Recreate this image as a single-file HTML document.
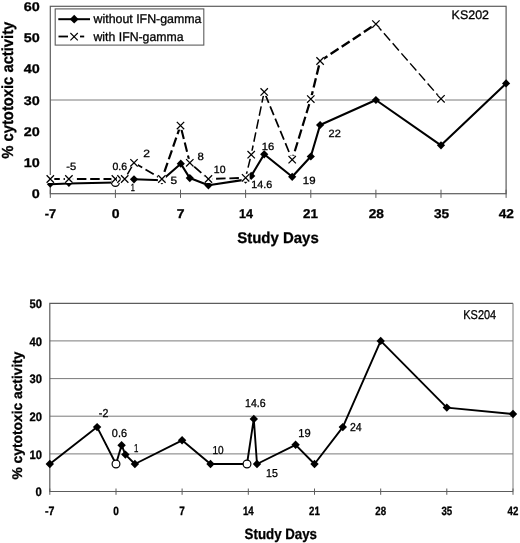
<!DOCTYPE html>
<html lang="en">
<head>
<meta charset="utf-8">
<title>Cytotoxic activity by study day: KS202 and KS204</title>
<style>
html,body{margin:0;padding:0;background:#fff;}
text{stroke:#000;stroke-width:0.3px;paint-order:stroke;}
svg{display:block;font-family:"Liberation Sans", Arial, Helvetica, sans-serif;fill:#000;text-rendering:geometricPrecision;will-change:transform;}
</style>
</head>
<body>
<svg width="520" height="543" viewBox="0 0 520 543">
<rect width="520" height="543" fill="#fff"/>
<line x1="50.3" x2="506.1" y1="100.0" y2="100.0" stroke="#7a7a7a" stroke-width="1"/>
<rect x="50.3" y="6.3" width="455.8" height="187.4" fill="none" stroke="#5c5c5c" stroke-width="1.2"/>
<line x1="50.3" x2="50.3" y1="189.7" y2="197.9" stroke="#5c5c5c" stroke-width="1"/>
<text x="50.4" y="218.2" font-size="12.8" font-weight="bold" text-anchor="middle" textLength="11.4" lengthAdjust="spacingAndGlyphs">-7</text>
<line x1="115.4" x2="115.4" y1="189.7" y2="197.9" stroke="#5c5c5c" stroke-width="1"/>
<text x="115.6" y="218.2" font-size="12.8" font-weight="bold" text-anchor="middle" textLength="7.8" lengthAdjust="spacingAndGlyphs">0</text>
<line x1="180.5" x2="180.5" y1="189.7" y2="197.9" stroke="#5c5c5c" stroke-width="1"/>
<text x="180.7" y="218.2" font-size="12.8" font-weight="bold" text-anchor="middle" textLength="7.8" lengthAdjust="spacingAndGlyphs">7</text>
<line x1="245.6" x2="245.6" y1="189.7" y2="197.9" stroke="#5c5c5c" stroke-width="1"/>
<text x="246.0" y="218.2" font-size="12.8" font-weight="bold" text-anchor="middle" textLength="14.0" lengthAdjust="spacingAndGlyphs">14</text>
<line x1="310.8" x2="310.8" y1="189.7" y2="197.9" stroke="#5c5c5c" stroke-width="1"/>
<text x="310.4" y="218.2" font-size="12.8" font-weight="bold" text-anchor="middle" textLength="14.9" lengthAdjust="spacingAndGlyphs">21</text>
<line x1="375.9" x2="375.9" y1="189.7" y2="197.9" stroke="#5c5c5c" stroke-width="1"/>
<text x="376.3" y="218.2" font-size="12.8" font-weight="bold" text-anchor="middle" textLength="15.2" lengthAdjust="spacingAndGlyphs">28</text>
<line x1="441.0" x2="441.0" y1="189.7" y2="197.9" stroke="#5c5c5c" stroke-width="1"/>
<text x="441.6" y="218.2" font-size="12.8" font-weight="bold" text-anchor="middle" textLength="15.2" lengthAdjust="spacingAndGlyphs">35</text>
<line x1="506.1" x2="506.1" y1="189.7" y2="197.9" stroke="#5c5c5c" stroke-width="1"/>
<text x="506.3" y="218.2" font-size="12.8" font-weight="bold" text-anchor="middle" textLength="15.2" lengthAdjust="spacingAndGlyphs">42</text>
<text x="39.8" y="198.2" font-size="12.6" font-weight="bold" text-anchor="end" textLength="8.0" lengthAdjust="spacingAndGlyphs">0</text>
<text x="39.8" y="167.0" font-size="12.6" font-weight="bold" text-anchor="end" textLength="16.0" lengthAdjust="spacingAndGlyphs">10</text>
<text x="39.8" y="135.7" font-size="12.6" font-weight="bold" text-anchor="end" textLength="16.0" lengthAdjust="spacingAndGlyphs">20</text>
<text x="39.8" y="104.5" font-size="12.6" font-weight="bold" text-anchor="end" textLength="16.0" lengthAdjust="spacingAndGlyphs">30</text>
<text x="39.8" y="73.3" font-size="12.6" font-weight="bold" text-anchor="end" textLength="16.0" lengthAdjust="spacingAndGlyphs">40</text>
<text x="39.8" y="42.0" font-size="12.6" font-weight="bold" text-anchor="end" textLength="16.0" lengthAdjust="spacingAndGlyphs">50</text>
<text x="39.8" y="10.8" font-size="12.6" font-weight="bold" text-anchor="end" textLength="16.0" lengthAdjust="spacingAndGlyphs">60</text>
<text x="278.0" y="243.2" font-size="15.5" font-weight="bold" text-anchor="middle" textLength="81.5" lengthAdjust="spacingAndGlyphs">Study Days</text>
<text transform="translate(13.4 90.2) rotate(-90)" font-size="16" font-weight="bold" text-anchor="middle" textLength="137" lengthAdjust="spacingAndGlyphs">% cytotoxic activity</text>
<text x="451.6" y="19.3" font-size="12.4" textLength="37.4" lengthAdjust="spacingAndGlyphs">KS202</text>
<path d="M50.3 184.3L68.9 183.5L115.4 182.5" fill="none" stroke="#000" stroke-width="2.1" stroke-linejoin="round"/>
<path d="M134.0 179.3L161.9 180.3L180.8 163.7L189.8 178.1L208.4 185.3L245.6 179.6L251.2 175.9L264.2 154.3L292.2 176.8L310.8 156.5L320.1 125.0L375.9 100.0L441.0 145.3L506.1 83.4" fill="none" stroke="#000" stroke-width="2.1" stroke-linejoin="round"/>
<path d="M50.3 180.9L53.7 184.3L50.3 187.7L46.9 184.3Z" fill="#000"/>
<path d="M68.9 180.1L72.3 183.5L68.9 186.9L65.5 183.5Z" fill="#000"/>
<circle cx="115.4" cy="182.5" r="3.9" fill="#fff" stroke="#000" stroke-width="1.2"/>
<path d="M134.0 175.2L138.1 179.3L134.0 183.4L129.9 179.3Z" fill="#000"/>
<path d="M161.9 176.2L166.0 180.3L161.9 184.4L157.8 180.3Z" fill="#000"/>
<path d="M180.8 159.6L184.9 163.7L180.8 167.8L176.7 163.7Z" fill="#000"/>
<path d="M189.8 174.0L193.9 178.1L189.8 182.2L185.7 178.1Z" fill="#000"/>
<path d="M208.4 181.2L212.5 185.3L208.4 189.4L204.3 185.3Z" fill="#000"/>
<path d="M245.6 175.5L249.7 179.6L245.6 183.7L241.5 179.6Z" fill="#000"/>
<path d="M251.2 171.8L255.3 175.9L251.2 180.0L247.1 175.9Z" fill="#000"/>
<path d="M264.2 150.2L268.3 154.3L264.2 158.4L260.1 154.3Z" fill="#000"/>
<path d="M292.2 172.7L296.3 176.8L292.2 180.9L288.1 176.8Z" fill="#000"/>
<path d="M310.8 152.4L314.9 156.5L310.8 160.6L306.7 156.5Z" fill="#000"/>
<path d="M320.1 120.9L324.2 125.0L320.1 129.1L316.0 125.0Z" fill="#000"/>
<path d="M375.9 95.9L380.0 100.0L375.9 104.1L371.8 100.0Z" fill="#000"/>
<path d="M441.0 141.2L445.1 145.3L441.0 149.4L436.9 145.3Z" fill="#000"/>
<path d="M506.1 79.3L510.2 83.4L506.1 87.5L502.0 83.4Z" fill="#000"/>
<line x1="50.3" y1="179.0" x2="68.9" y2="179.0" stroke="#000" stroke-width="1.8" stroke-dasharray="9.5 3.8" stroke-dashoffset="0.0"/>
<line x1="68.9" y1="179.0" x2="115.4" y2="179.0" stroke="#000" stroke-width="1.8" stroke-dasharray="9.5 3.8" stroke-dashoffset="5.3"/>
<line x1="115.4" y1="179.0" x2="121.0" y2="179.0" stroke="#000" stroke-width="1.8" stroke-dasharray="9.5 3.8" stroke-dashoffset="11.9"/>
<line x1="121.0" y1="179.0" x2="124.7" y2="179.0" stroke="#000" stroke-width="1.8" stroke-dasharray="9.5 3.8" stroke-dashoffset="4.2"/>
<line x1="124.7" y1="179.0" x2="134.0" y2="162.8" stroke="#000" stroke-width="1.5" stroke-dasharray="9.5 3.8" stroke-dashoffset="7.9"/>
<line x1="134.0" y1="162.8" x2="161.9" y2="179.0" stroke="#000" stroke-width="1.8" stroke-dasharray="9.5 3.8" stroke-dashoffset="0.0"/>
<line x1="161.9" y1="179.0" x2="180.5" y2="125.6" stroke="#000" stroke-width="2.2" stroke-dasharray="9.5 3.8" stroke-dashoffset="5.7"/>
<line x1="180.5" y1="125.6" x2="189.8" y2="162.8" stroke="#000" stroke-width="2.1" stroke-dasharray="9.5 3.8" stroke-dashoffset="9.1"/>
<line x1="189.8" y1="162.8" x2="208.4" y2="179.0" stroke="#000" stroke-width="1.8" stroke-dasharray="9.5 3.8" stroke-dashoffset="7.5"/>
<line x1="208.4" y1="179.0" x2="245.6" y2="177.8" stroke="#000" stroke-width="1.8" stroke-dasharray="9.5 3.8" stroke-dashoffset="5.6"/>
<line x1="245.6" y1="177.8" x2="251.2" y2="154.7" stroke="#000" stroke-width="1.5" stroke-dasharray="9.5 3.8" stroke-dashoffset="2.9"/>
<line x1="251.2" y1="154.7" x2="264.2" y2="91.9" stroke="#000" stroke-width="1.5" stroke-dasharray="9.5 3.8" stroke-dashoffset="0.1"/>
<line x1="264.2" y1="91.9" x2="292.2" y2="159.7" stroke="#000" stroke-width="1.7" stroke-dasharray="9.5 3.8" stroke-dashoffset="11.0"/>
<line x1="292.2" y1="159.7" x2="310.8" y2="99.1" stroke="#000" stroke-width="2.2" stroke-dasharray="9.5 3.8" stroke-dashoffset="4.5"/>
<line x1="310.8" y1="99.1" x2="320.1" y2="61.0" stroke="#000" stroke-width="2.3" stroke-dasharray="9.5 3.8" stroke-dashoffset="1.4"/>
<line x1="320.1" y1="61.0" x2="375.9" y2="24.1" stroke="#000" stroke-width="2.4" stroke-dasharray="9.5 3.8" stroke-dashoffset="0.7"/>
<line x1="375.9" y1="24.1" x2="441.0" y2="98.8" stroke="#000" stroke-width="1.4" stroke-dasharray="9.5 3.8" stroke-dashoffset="1.1"/>
<rect x="46.3" y="175.0" width="8.0" height="8.0" fill="#fff"/>
<path d="M46.6 175.3L54.0 182.7M46.6 182.7L54.0 175.3" stroke="#000" stroke-width="1.25" fill="none"/>
<rect x="64.9" y="175.0" width="8.0" height="8.0" fill="#fff"/>
<path d="M65.2 175.3L72.6 182.7M65.2 182.7L72.6 175.3" stroke="#000" stroke-width="1.25" fill="none"/>
<rect x="111.4" y="175.0" width="8.0" height="8.0" fill="#fff"/>
<path d="M111.7 175.3L119.1 182.7M111.7 182.7L119.1 175.3" stroke="#000" stroke-width="1.25" fill="none"/>
<rect x="117.0" y="175.0" width="8.0" height="8.0" fill="#fff"/>
<path d="M117.3 175.3L124.7 182.7M117.3 182.7L124.7 175.3" stroke="#000" stroke-width="1.25" fill="none"/>
<rect x="120.7" y="175.0" width="8.0" height="8.0" fill="#fff"/>
<path d="M121.0 175.3L128.4 182.7M121.0 182.7L128.4 175.3" stroke="#000" stroke-width="1.25" fill="none"/>
<rect x="130.0" y="158.8" width="8.0" height="8.0" fill="#fff"/>
<path d="M130.3 159.1L137.7 166.5M130.3 166.5L137.7 159.1" stroke="#000" stroke-width="1.25" fill="none"/>
<rect x="157.9" y="175.0" width="8.0" height="8.0" fill="#fff"/>
<path d="M158.2 175.3L165.6 182.7M158.2 182.7L165.6 175.3" stroke="#000" stroke-width="1.25" fill="none"/>
<rect x="176.5" y="121.6" width="8.0" height="8.0" fill="#fff"/>
<path d="M176.8 121.9L184.2 129.3M176.8 129.3L184.2 121.9" stroke="#000" stroke-width="1.25" fill="none"/>
<rect x="185.8" y="158.8" width="8.0" height="8.0" fill="#fff"/>
<path d="M186.1 159.1L193.5 166.5M186.1 166.5L193.5 159.1" stroke="#000" stroke-width="1.25" fill="none"/>
<rect x="204.4" y="175.0" width="8.0" height="8.0" fill="#fff"/>
<path d="M204.7 175.3L212.1 182.7M204.7 182.7L212.1 175.3" stroke="#000" stroke-width="1.25" fill="none"/>
<rect x="241.6" y="173.8" width="8.0" height="8.0" fill="#fff"/>
<path d="M241.9 174.1L249.3 181.5M241.9 181.5L249.3 174.1" stroke="#000" stroke-width="1.25" fill="none"/>
<rect x="247.2" y="150.7" width="8.0" height="8.0" fill="#fff"/>
<path d="M247.5 151.0L254.9 158.4M247.5 158.4L254.9 151.0" stroke="#000" stroke-width="1.25" fill="none"/>
<rect x="260.2" y="87.9" width="8.0" height="8.0" fill="#fff"/>
<path d="M260.5 88.2L267.9 95.6M260.5 95.6L267.9 88.2" stroke="#000" stroke-width="1.25" fill="none"/>
<rect x="288.2" y="155.7" width="8.0" height="8.0" fill="#fff"/>
<path d="M288.5 156.0L295.9 163.4M288.5 163.4L295.9 156.0" stroke="#000" stroke-width="1.25" fill="none"/>
<rect x="306.8" y="95.1" width="8.0" height="8.0" fill="#fff"/>
<path d="M307.1 95.4L314.5 102.8M307.1 102.8L314.5 95.4" stroke="#000" stroke-width="1.25" fill="none"/>
<rect x="316.1" y="57.0" width="8.0" height="8.0" fill="#fff"/>
<path d="M316.4 57.3L323.8 64.7M316.4 64.7L323.8 57.3" stroke="#000" stroke-width="1.25" fill="none"/>
<rect x="371.9" y="20.1" width="8.0" height="8.0" fill="#fff"/>
<path d="M372.2 20.4L379.6 27.8M372.2 27.8L379.6 20.4" stroke="#000" stroke-width="1.25" fill="none"/>
<rect x="437.0" y="94.8" width="8.0" height="8.0" fill="#fff"/>
<path d="M437.3 95.1L444.7 102.5M437.3 102.5L444.7 95.1" stroke="#000" stroke-width="1.25" fill="none"/>
<text x="71.2" y="170.4" font-size="10.5" text-anchor="middle" textLength="9.9" lengthAdjust="spacingAndGlyphs">-5</text>
<text x="119.7" y="170.0" font-size="10.5" text-anchor="middle" textLength="14.6" lengthAdjust="spacingAndGlyphs">0.6</text>
<text x="146.6" y="156.9" font-size="10.5" text-anchor="middle" textLength="6.7" lengthAdjust="spacingAndGlyphs">2</text>
<text x="132.9" y="191.3" font-size="10.5" text-anchor="middle" textLength="4.1" lengthAdjust="spacingAndGlyphs">1</text>
<text x="173.8" y="183.6" font-size="10.5" text-anchor="middle" textLength="6.6" lengthAdjust="spacingAndGlyphs">5</text>
<text x="200.6" y="160.0" font-size="10.5" text-anchor="middle" textLength="6.3" lengthAdjust="spacingAndGlyphs">8</text>
<text x="219.7" y="172.5" font-size="10.5" text-anchor="middle" textLength="11.7" lengthAdjust="spacingAndGlyphs">10</text>
<text x="267.9" y="149.6" font-size="10.5" text-anchor="middle" textLength="12.5" lengthAdjust="spacingAndGlyphs">16</text>
<text x="261.7" y="187.9" font-size="10.5" text-anchor="middle" textLength="20.9" lengthAdjust="spacingAndGlyphs">14.6</text>
<text x="309.2" y="183.6" font-size="10.5" text-anchor="middle" textLength="12.7" lengthAdjust="spacingAndGlyphs">19</text>
<text x="334.7" y="137.3" font-size="10.5" text-anchor="middle" textLength="12.2" lengthAdjust="spacingAndGlyphs">22</text>
<rect x="55.2" y="8.9" width="148.6" height="36.2" fill="#fff" stroke="#5c5c5c" stroke-width="1.1"/>
<line x1="58.3" x2="90" y1="19.2" y2="19.2" stroke="#000" stroke-width="2"/>
<path d="M74.2 14.8L78.6 19.2L74.2 23.6L69.8 19.2Z" fill="#000"/>
<line x1="58.5" x2="68.0" y1="36.5" y2="36.5" stroke="#000" stroke-width="1.8"/>
<line x1="80.0" x2="84.2" y1="36.5" y2="36.5" stroke="#000" stroke-width="1.8"/>
<path d="M70.4 33.0L77.8 40.4M70.4 40.4L77.8 33.0" stroke="#000" stroke-width="1.1" fill="none"/>
<text x="93.5" y="22.7" font-size="12.6" textLength="108" lengthAdjust="spacingAndGlyphs">without IFN-gamma</text>
<text x="93.5" y="41.0" font-size="12.6" textLength="90" lengthAdjust="spacingAndGlyphs">with IFN-gamma</text>
<line x1="49.8" x2="513.0" y1="453.9" y2="453.9" stroke="#7a7a7a" stroke-width="1"/>
<line x1="49.8" x2="513.0" y1="416.2" y2="416.2" stroke="#7a7a7a" stroke-width="1"/>
<line x1="49.8" x2="513.0" y1="378.6" y2="378.6" stroke="#7a7a7a" stroke-width="1"/>
<line x1="49.8" x2="513.0" y1="340.9" y2="340.9" stroke="#7a7a7a" stroke-width="1"/>
<path d="M513.0 303.3L49.8 303.3L49.8 491.5L513.0 491.5" fill="none" stroke="#5c5c5c" stroke-width="1.2"/>
<line x1="513.0" x2="513.0" y1="303.3" y2="491.5" stroke="#7a7a7a" stroke-width="1"/>
<line x1="49.8" x2="49.8" y1="488.5" y2="494.8" stroke="#5c5c5c" stroke-width="1"/>
<text x="49.8" y="515.4" font-size="12" font-weight="bold" text-anchor="middle" textLength="9.5" lengthAdjust="spacingAndGlyphs">-7</text>
<line x1="116.0" x2="116.0" y1="488.5" y2="494.8" stroke="#5c5c5c" stroke-width="1"/>
<text x="116.0" y="515.4" font-size="12" font-weight="bold" text-anchor="middle" textLength="5.6" lengthAdjust="spacingAndGlyphs">0</text>
<line x1="182.1" x2="182.1" y1="488.5" y2="494.8" stroke="#5c5c5c" stroke-width="1"/>
<text x="182.1" y="515.4" font-size="12" font-weight="bold" text-anchor="middle" textLength="5.6" lengthAdjust="spacingAndGlyphs">7</text>
<line x1="248.3" x2="248.3" y1="488.5" y2="494.8" stroke="#5c5c5c" stroke-width="1"/>
<text x="248.3" y="515.4" font-size="12" font-weight="bold" text-anchor="middle" textLength="10.8" lengthAdjust="spacingAndGlyphs">14</text>
<line x1="314.5" x2="314.5" y1="488.5" y2="494.8" stroke="#5c5c5c" stroke-width="1"/>
<text x="314.5" y="515.4" font-size="12" font-weight="bold" text-anchor="middle" textLength="10.8" lengthAdjust="spacingAndGlyphs">21</text>
<line x1="380.7" x2="380.7" y1="488.5" y2="494.8" stroke="#5c5c5c" stroke-width="1"/>
<text x="380.7" y="515.4" font-size="12" font-weight="bold" text-anchor="middle" textLength="10.8" lengthAdjust="spacingAndGlyphs">28</text>
<line x1="446.8" x2="446.8" y1="488.5" y2="494.8" stroke="#5c5c5c" stroke-width="1"/>
<text x="446.8" y="515.4" font-size="12" font-weight="bold" text-anchor="middle" textLength="10.8" lengthAdjust="spacingAndGlyphs">35</text>
<line x1="513.0" x2="513.0" y1="488.5" y2="494.8" stroke="#5c5c5c" stroke-width="1"/>
<text x="513.0" y="515.4" font-size="12" font-weight="bold" text-anchor="middle" textLength="10.8" lengthAdjust="spacingAndGlyphs">42</text>
<text x="41.9" y="496.3" font-size="12.2" font-weight="bold" text-anchor="end" textLength="6.3" lengthAdjust="spacingAndGlyphs">0</text>
<text x="41.9" y="458.7" font-size="12.2" font-weight="bold" text-anchor="end" textLength="12.5" lengthAdjust="spacingAndGlyphs">10</text>
<text x="41.9" y="421.0" font-size="12.2" font-weight="bold" text-anchor="end" textLength="12.5" lengthAdjust="spacingAndGlyphs">20</text>
<text x="41.9" y="383.4" font-size="12.2" font-weight="bold" text-anchor="end" textLength="12.5" lengthAdjust="spacingAndGlyphs">30</text>
<text x="41.9" y="345.7" font-size="12.2" font-weight="bold" text-anchor="end" textLength="12.5" lengthAdjust="spacingAndGlyphs">40</text>
<text x="41.9" y="308.1" font-size="12.2" font-weight="bold" text-anchor="end" textLength="12.5" lengthAdjust="spacingAndGlyphs">50</text>
<text x="280.8" y="538.5" font-size="15" font-weight="bold" text-anchor="middle" textLength="72.4" lengthAdjust="spacingAndGlyphs">Study Days</text>
<text transform="translate(22.0 415.5) rotate(-90)" font-size="14" font-weight="bold" text-anchor="middle" textLength="128" lengthAdjust="spacingAndGlyphs">% cytotoxic activity</text>
<text x="463.3" y="318.8" font-size="12.8" textLength="32.9" lengthAdjust="spacingAndGlyphs">KS204</text>
<path d="M49.8 464.0L97.1 427.1L116.0 464.0L121.6 445.2L125.4 454.6L134.9 464.0L182.1 440.3L210.5 464.0L247.0 464.0L253.8 418.9L257.0 464.0L295.6 444.8L314.5 464.0L342.8 427.1L380.7 340.9L446.8 407.6L513.0 414.0" fill="none" stroke="#000" stroke-width="1.9" stroke-linejoin="round"/>
<path d="M49.8 459.8L54.0 464.0L49.8 468.2L45.6 464.0Z" fill="#000"/>
<path d="M97.1 422.9L101.3 427.1L97.1 431.3L92.9 427.1Z" fill="#000"/>
<circle cx="116.0" cy="464.0" r="3.9" fill="#fff" stroke="#000" stroke-width="1.2"/>
<path d="M121.6 441.0L125.8 445.2L121.6 449.4L117.4 445.2Z" fill="#000"/>
<path d="M125.4 450.4L129.6 454.6L125.4 458.8L121.2 454.6Z" fill="#000"/>
<path d="M134.9 459.8L139.1 464.0L134.9 468.2L130.7 464.0Z" fill="#000"/>
<path d="M182.1 436.1L186.3 440.3L182.1 444.5L177.9 440.3Z" fill="#000"/>
<path d="M210.5 459.8L214.7 464.0L210.5 468.2L206.3 464.0Z" fill="#000"/>
<circle cx="247.0" cy="464.0" r="3.9" fill="#fff" stroke="#000" stroke-width="1.2"/>
<path d="M253.8 414.7L258.0 418.9L253.8 423.1L249.6 418.9Z" fill="#000"/>
<path d="M257.0 459.8L261.2 464.0L257.0 468.2L252.8 464.0Z" fill="#000"/>
<path d="M295.6 440.6L299.8 444.8L295.6 449.0L291.4 444.8Z" fill="#000"/>
<path d="M314.5 459.8L318.7 464.0L314.5 468.2L310.3 464.0Z" fill="#000"/>
<path d="M342.8 422.9L347.0 427.1L342.8 431.3L338.6 427.1Z" fill="#000"/>
<path d="M380.7 336.7L384.9 340.9L380.7 345.1L376.5 340.9Z" fill="#000"/>
<path d="M446.8 403.4L451.0 407.6L446.8 411.8L442.6 407.6Z" fill="#000"/>
<path d="M513.0 409.8L517.2 414.0L513.0 418.2L508.8 414.0Z" fill="#000"/>
<text x="103.6" y="417.4" font-size="11.5" text-anchor="middle" textLength="9.5" lengthAdjust="spacingAndGlyphs">-2</text>
<text x="119.4" y="436.8" font-size="11.5" text-anchor="middle" textLength="15.1" lengthAdjust="spacingAndGlyphs">0.6</text>
<text x="136.2" y="451.5" font-size="11.5" text-anchor="middle" textLength="4.4" lengthAdjust="spacingAndGlyphs">1</text>
<text x="218.0" y="453.8" font-size="11.5" text-anchor="middle" textLength="11.2" lengthAdjust="spacingAndGlyphs">10</text>
<text x="255.4" y="406.8" font-size="11.5" text-anchor="middle" textLength="20.6" lengthAdjust="spacingAndGlyphs">14.6</text>
<text x="271.9" y="477.4" font-size="11.5" text-anchor="middle" textLength="11.8" lengthAdjust="spacingAndGlyphs">15</text>
<text x="304.4" y="437.3" font-size="11.5" text-anchor="middle" textLength="12.4" lengthAdjust="spacingAndGlyphs">19</text>
<text x="355.8" y="431.3" font-size="11.5" text-anchor="middle" textLength="11.7" lengthAdjust="spacingAndGlyphs">24</text>
</svg>
</body>
</html>
